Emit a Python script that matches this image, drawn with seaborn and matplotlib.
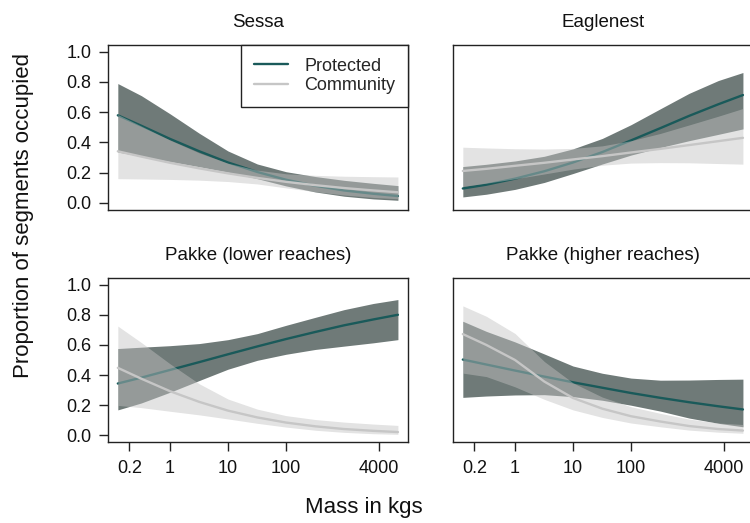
import matplotlib
matplotlib.use("Agg")
import matplotlib.pyplot as plt
import seaborn as sns
from matplotlib.lines import Line2D

sns.set_style("ticks")
plt.rcParams['font.family'] = ['Liberation Sans', 'DejaVu Sans']

# ---- data ----
mass = [0.126, 0.32, 1, 3.2, 10, 32, 100, 320, 1000, 3200, 8500]
panels = ["Sessa", "Eaglenest", "Pakke (lower reaches)", "Pakke (higher reaches)"]

sessa_prot_fit = [0.579, 0.51, 0.423, 0.341, 0.267, 0.204, 0.153, 0.113, 0.082, 0.060, 0.045]
sessa_prot_lo = [0.336, 0.308, 0.273, 0.239, 0.203, 0.16, 0.112, 0.072, 0.044, 0.026, 0.017]
sessa_prot_hi = [0.789, 0.709, 0.589, 0.46, 0.343, 0.257, 0.206, 0.174, 0.149, 0.129, 0.114]
sessa_comm_fit = [0.341, 0.306, 0.265, 0.228, 0.195, 0.165, 0.139, 0.117, 0.098, 0.082, 0.07]
sessa_comm_lo = [0.16, 0.158, 0.155, 0.15, 0.141, 0.125, 0.099, 0.074, 0.052, 0.036, 0.027]
sessa_comm_hi = [0.584, 0.508, 0.415, 0.33, 0.262, 0.216, 0.192, 0.182, 0.176, 0.173, 0.171]

eagle_prot_fit = [0.095, 0.12, 0.16, 0.209, 0.267, 0.336, 0.413, 0.494, 0.575, 0.652, 0.713]
eagle_prot_lo = [0.039, 0.057, 0.089, 0.135, 0.194, 0.257, 0.316, 0.366, 0.411, 0.453, 0.489]
eagle_prot_hi = [0.24, 0.255, 0.277, 0.308, 0.357, 0.426, 0.517, 0.622, 0.724, 0.809, 0.862]
eagle_comm_fit = [0.211, 0.225, 0.245, 0.265, 0.287, 0.309, 0.333, 0.357, 0.382, 0.408, 0.43]
eagle_comm_lo = [0.109, 0.13, 0.159, 0.191, 0.223, 0.249, 0.263, 0.266, 0.265, 0.26, 0.256]
eagle_comm_hi = [0.368, 0.363, 0.358, 0.356, 0.36, 0.377, 0.411, 0.459, 0.515, 0.573, 0.624]

plow_prot_fit = [0.344, 0.383, 0.434, 0.486, 0.538, 0.59, 0.639, 0.686, 0.73, 0.769, 0.80]
plow_prot_lo = [0.169, 0.215, 0.286, 0.364, 0.439, 0.498, 0.538, 0.57, 0.592, 0.614, 0.635]
plow_prot_hi = [0.576, 0.585, 0.595, 0.609, 0.635, 0.675, 0.73, 0.783, 0.834, 0.875, 0.901]
plow_comm_fit = [0.448, 0.376, 0.293, 0.222, 0.164, 0.119, 0.085, 0.06, 0.042, 0.03, 0.022]
plow_comm_lo = [0.199, 0.184, 0.16, 0.136, 0.109, 0.08, 0.055, 0.034, 0.02, 0.011, 0.007]
plow_comm_hi = [0.725, 0.616, 0.475, 0.342, 0.241, 0.174, 0.131, 0.105, 0.088, 0.075, 0.066]

phigh_prot_fit = [0.503, 0.47, 0.43, 0.39, 0.352, 0.316, 0.281, 0.249, 0.22, 0.193, 0.172]
phigh_prot_lo = [0.252, 0.261, 0.268, 0.27, 0.257, 0.233, 0.2, 0.161, 0.115, 0.08, 0.057]
phigh_prot_hi = [0.757, 0.69, 0.62, 0.54, 0.46, 0.412, 0.38, 0.366, 0.367, 0.371, 0.373]
phigh_comm_fit = [0.672, 0.6, 0.5, 0.357, 0.248, 0.177, 0.127, 0.092, 0.062, 0.042, 0.032]
phigh_comm_lo = [0.413, 0.39, 0.322, 0.239, 0.169, 0.119, 0.082, 0.057, 0.035, 0.021, 0.014]
phigh_comm_hi = [0.859, 0.79, 0.676, 0.49, 0.348, 0.254, 0.19, 0.146, 0.108, 0.082, 0.072]

xticks = [0.2, 1, 10, 100, 4000]
xtick_labels = ["0.2", "1", "10", "100", "4000"]
yticks = [0.0, 0.2, 0.4, 0.6, 0.8, 1.0]
ytick_labels = ["0.0", "0.2", "0.4", "0.6", "0.8", "1.0"]

series = [
    (sessa_prot_fit, sessa_prot_lo, sessa_prot_hi, sessa_comm_fit, sessa_comm_lo, sessa_comm_hi),
    (eagle_prot_fit, eagle_prot_lo, eagle_prot_hi, eagle_comm_fit, eagle_comm_lo, eagle_comm_hi),
    (plow_prot_fit, plow_prot_lo, plow_prot_hi, plow_comm_fit, plow_comm_lo, plow_comm_hi),
    (phigh_prot_fit, phigh_prot_lo, phigh_prot_hi, phigh_comm_fit, phigh_comm_lo, phigh_comm_hi),
]

# ---- styles ----
PROT_LINE = "#1a5a5a"
PROT_BAND = "#6f7a78"
COMM_LINE = "#c6c6c6"
COMM_BAND = "#c2c2c2"
COMM_ALPHA = 0.46
EDGE = "#222222"

W, H = 750, 523
fig = plt.figure(figsize=(7.5, 5.23), dpi=100)

# axes boxes in pixels: (left, top, width, height)
boxes = [(108, 45, 300, 164.5), (453, 45, 300, 164.5),
         (108, 278, 300, 164), (453, 278, 300, 164)]

xlim = (10 ** -1.069, 10 ** 4.103)
ylim = (-0.044, 1.044)

for i, (name, (pf, pl, ph, cf, cl, ch), (l, t, w, h)) in enumerate(zip(panels, series, boxes)):
    ax = fig.add_axes([l / W, 1 - (t + h) / H, w / W, h / H])
    ax.set_xscale("log")
    ax.fill_between(mass, pl, ph, color=PROT_BAND, linewidth=0, zorder=1)
    sns.lineplot(x=mass, y=pf, ax=ax, color=PROT_LINE, linewidth=1.7, zorder=2)
    ax.fill_between(mass, cl, ch, color=COMM_BAND, alpha=COMM_ALPHA, linewidth=0, zorder=3)
    sns.lineplot(x=mass, y=cf, ax=ax, color=COMM_LINE, linewidth=1.7, zorder=4)
    ax.set_xlim(*xlim)
    ax.set_ylim(*ylim)
    ax.minorticks_off()
    ax.set_xlabel("")
    ax.set_ylabel("")
    for sp in ax.spines.values():
        sp.set_visible(True)
        sp.set_color(EDGE)
        sp.set_linewidth(1.0)
    ax.set_title(name, fontsize=13.5, pad=13, color="#111111")
    ax.tick_params(axis="both", direction="out", length=6.5, width=1.0, color=EDGE,
                   labelsize=13, labelcolor="#111111")
    ax.tick_params(axis="x", pad=6.5)
    ax.tick_params(axis="y", pad=5.5)
    if i >= 2:
        ax.set_xticks(xticks)
        ax.set_xticklabels(xtick_labels)
    else:
        ax.set_xticks([])
    if i % 2 == 0:
        ax.set_yticks(yticks)
        ax.set_yticklabels(ytick_labels)
    else:
        ax.set_yticks([])
    if i == 0:
        handles = [Line2D([0], [0], color=PROT_LINE, lw=1.7),
                   Line2D([0], [0], color=COMM_LINE, lw=1.7)]
        leg = ax.legend(handles, ["Protected", "Community"], loc="upper right",
                        borderaxespad=0, frameon=True, fancybox=False,
                        edgecolor=EDGE, framealpha=1, fontsize=13,
                        handlelength=1.9, handletextpad=0.9, borderpad=0.7,
                        labelspacing=0.15)
        leg.get_frame().set_linewidth(1.0)
        leg.set_zorder(10)

fig.text(24 / W, 1 - 215 / H, "Proportion of segments occupied", rotation=90,
         ha="center", va="center", fontsize=16, color="#111111")
fig.text(364 / W, 1 - 508 / H, "Mass in kgs", ha="center", va="center",
         fontsize=16, color="#111111")

fig.savefig("out.png", dpi=100, facecolor="white")
